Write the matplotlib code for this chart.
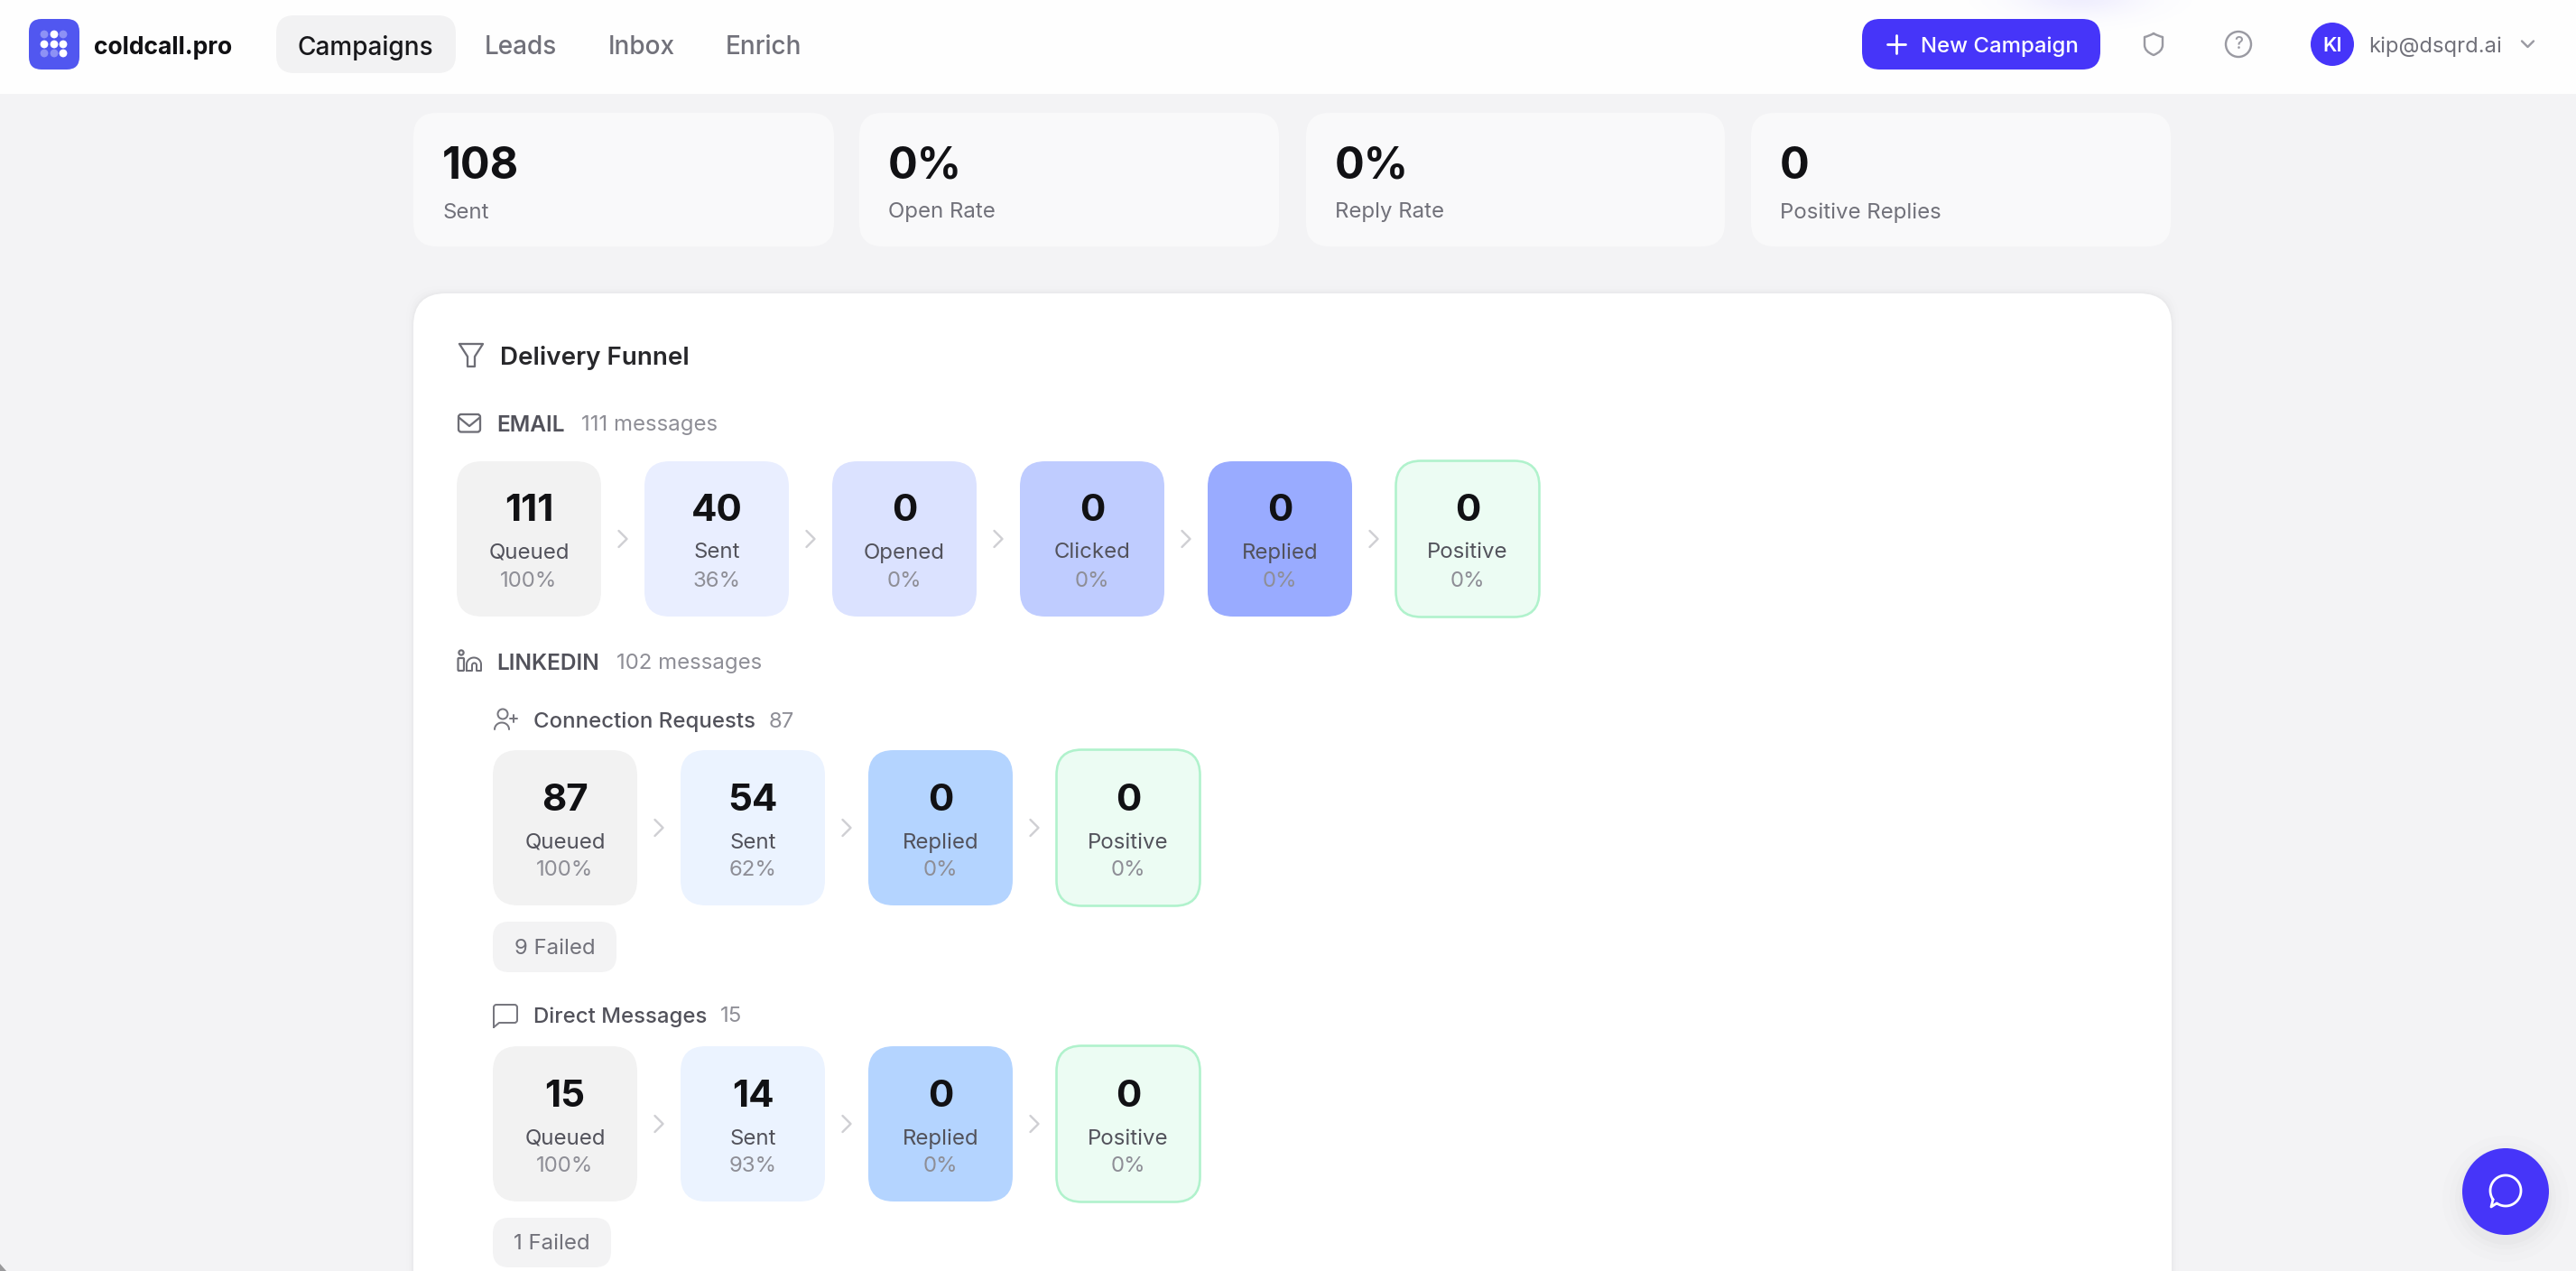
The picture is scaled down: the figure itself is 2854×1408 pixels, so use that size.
import numpy as np
import matplotlib
matplotlib.use("Agg")
import matplotlib.pyplot as plt
from matplotlib.patches import FancyBboxPatch, Circle, PathPatch
from matplotlib.path import Path

# ---- data ----
nav_items = ["Campaigns", "Leads", "Inbox", "Enrich"]
kpi_values = ["108", "0%", "0%", "0"]
kpi_labels = ["Sent", "Open Rate", "Reply Rate", "Positive Replies"]

email_stages = ["Queued", "Sent", "Opened", "Clicked", "Replied", "Positive"]
email_counts = [111, 40, 0, 0, 0, 0]
email_pcts = [100, 36, 0, 0, 0, 0]
email_total = 111
linkedin_total = 102

li_stages = ["Queued", "Sent", "Replied", "Positive"]
conn_counts = [87, 54, 0, 0]
conn_pcts = [100, 62, 0, 0]
conn_failed = 9
dm_counts = [15, 14, 0, 0]
dm_pcts = [100, 93, 0, 0]
dm_failed = 1

email_colors = ["#F2F2F2", "#E9EEFF", "#DBE2FF", "#BFCCFF", "#99ABFF", "#ECFCF3"]
li_colors = ["#F2F2F2", "#EBF3FF", "#B4D4FF", "#ECFCF3"]

# ---- canvas ----
W, H = 2854, 1408
plt.rcParams["font.family"] = ["Inter", "DejaVu Sans"]
fig = plt.figure(figsize=(W / 100, H / 100), dpi=100, facecolor="#F3F3F5")
ax = fig.add_axes([0, 0, 1, 1])
ax.set_xlim(0, W)
ax.set_ylim(H, 0)
ax.axis("off")

PX = 0.72
INK = "#18181B"
MID = "#52525B"
GREY = "#71717A"
LIGHT = "#8E8E96"
ACCENT = "#4635F9"


def rbox(x0, y0, x1, y1, r, fc, ec="none", lw=0, z=2):
    p = FancyBboxPatch((x0 + r, y0 + r), x1 - x0 - 2 * r, y1 - y0 - 2 * r,
                       boxstyle=f"round,pad={r},rounding_size={r}",
                       fc=fc, ec=ec, lw=lw, zorder=z)
    ax.add_patch(p)
    return p


def txt(x, y, s, px, color, weight="normal", ha="left", z=5):
    ax.text(x, y, s, fontsize=px * PX, color=color, weight=weight, ha=ha,
            va="center_baseline", zorder=z)


def line(xs, ys, color, lw=2.2, z=4):
    ax.plot(xs, ys, color=color, lw=lw * PX, solid_capstyle="round",
            solid_joinstyle="round", zorder=z)


def curve(verts, codes, color, lw=2.2, z=4):
    ax.add_patch(PathPatch(Path(verts, codes), fc="none", ec=color,
                           lw=lw * PX, capstyle="round", joinstyle="round", zorder=z))


# window corner
ax.fill([0, 0, 7], [1400, 1408, 1408], color="#9A9A9C", zorder=1, lw=0)

# header
ax.fill_between([0, W], 0, 104, color="#FEFEFE", zorder=1, lw=0)
gx = np.linspace(2100, 2480, 160)
gy = np.linspace(0, 104, 50)
GX, GY = np.meshgrid(gx, gy)
glow = np.exp(-(((GX - 2305) / 70) ** 2 + ((GY + 5) / 22) ** 2))
rgba = np.zeros(glow.shape + (4,))
rgba[..., :3] = matplotlib.colors.to_rgb("#6A5CFF")
rgba[..., 3] = glow * 0.10
ax.imshow(rgba, extent=(2100, 2480, 104, 0), zorder=1.5, aspect="auto", interpolation="bilinear")
ax.set_xlim(0, W)
ax.set_ylim(H, 0)

# logo
rbox(32, 21, 88, 77, 14, "#5157F0")
dot_x = [49, 60, 70]
dot_y = [38, 49, 59]
dot_a = [[.35, 1, .35], [1, 1, 1], [.35, .35, 1]]
for j, yy in enumerate(dot_y):
    for i, xx in enumerate(dot_x):
        ax.add_patch(Circle((xx, yy), 4.4, fc="white", alpha=dot_a[j][i], ec="none", zorder=4))
txt(104, 50, "coldcall.pro", 26.5, "#111114", "bold")

# nav
rbox(306, 17, 505, 81, 20, "#F2F2F3")
nav_x = [405, 577, 711, 846]
for k, (name, nx) in enumerate(zip(nav_items, nav_x)):
    txt(nx, 50, name, 28, INK if k == 0 else GREY, "medium", ha="center")

# header right
rbox(2063, 21, 2327, 77, 20, ACCENT)
line([2101, 2101], [39, 59], "white", 2.8)
line([2091, 2111], [49, 49], "white", 2.8)
txt(2128, 49, "New Campaign", 24, "white", "medium")
# shield
S = "#9A9AA2"
curve([(2386, 37), (2391, 40), (2396, 41), (2396, 41), (2396, 50), (2396, 57), (2386, 61),
       (2376, 57), (2376, 50), (2376, 41), (2376, 41), (2381, 40), (2386, 37)],
      [Path.MOVETO, Path.CURVE3, Path.CURVE3, Path.LINETO, Path.LINETO, Path.CURVE3, Path.CURVE3,
       Path.CURVE3, Path.CURVE3, Path.LINETO, Path.LINETO, Path.CURVE3, Path.CURVE3], S, 2.4)
# help
ax.add_patch(Circle((2480, 49), 14, fc="none", ec=S, lw=2.4 * PX, zorder=4))
ax.text(2480, 49.5, "?", fontsize=19 * PX, color=S, ha="center", va="center", zorder=5, weight="medium")
# avatar
ax.add_patch(Circle((2584, 49), 24, fc=ACCENT, ec="none", zorder=4))
txt(2584, 49, "KI", 22, "white", "semibold", ha="center")
txt(2624, 49, "kip@dsqrd.ai", 23.8, GREY)
line([2794, 2800.5, 2807], [45.5, 52, 45.5], S, 2.4)

# KPI cards
kpi_x = [(458, 924), (952, 1417), (1447, 1911), (1940, 2405)]
for (x0, x1), v, l in zip(kpi_x, kpi_values, kpi_labels):
    rbox(x0, 125, x1, 273, 26, "#F9F9FA")
    txt(x0 + 32, 180, v, 48.5, "#111114", "bold")
    txt(x0 + 32, 233, l, 24, GREY)

# main card with soft shadow
for i, a in zip([8, 5, 3, 1.5], [.004, .006, .009, .014]):
    ax.add_patch(FancyBboxPatch((458 + 36 - i, 325 + 36 - i), 1948 - 72 + 2 * i, 1300,
                                boxstyle="round,pad=36,rounding_size=36",
                                fc="#000000", alpha=a, ec="none", zorder=2.2))
ax.add_patch(FancyBboxPatch((458 + 36, 325 + 36), 1948 - 72, 1300,
                            boxstyle="round,pad=36,rounding_size=36",
                            fc="white", ec="none", zorder=2.5))

# Delivery Funnel title
I = "#6E6E76"
line([509, 535, 526, 526, 518, 518, 509], [381, 381, 395, 406, 406, 395, 381], I, 2.3)
txt(554, 393, "Delivery Funnel", 27.8, "#27272A", "semibold")

# EMAIL
rbox(508, 459, 532, 478.5, 3, "none", I, 2.3 * PX, z=4)
line([509, 520, 531], [463, 472, 463], I, 2.3)
txt(550, 469, "EMAIL", 24.5, MID, "semibold")
txt(644, 469, f"{email_total} messages", 24, LIGHT)

# LINKEDIN
rbox(507.5, 729, 514, 743, 1, "none", I, 2.2 * PX, z=4)
ax.add_patch(Circle((511, 723), 2.6, fc="none", ec=I, lw=2.2 * PX, zorder=4))
t = np.linspace(np.pi, 0, 30)
line(np.r_[517, 517 + 0 * t, 525 + 8 * np.cos(t), 533, 528, 528, 525.5 + 2.5 * np.cos(t[::-1]), 523, 517],
     np.r_[743, 736 + 0 * t, 736 - 7.5 * np.sin(t), 743, 743, 737, 737 - 2.5 * np.sin(t[::-1]), 743, 743], I, 2.0)
txt(550, 733, "LINKEDIN", 24.5, MID, "semibold")
txt(683, 733, f"{linkedin_total} messages", 24, LIGHT)


def funnel(x0, pitch, w, y0, y1, stages, counts, pcts, colors, dy):
    for i, (s, c, p, col) in enumerate(zip(stages, counts, pcts, colors)):
        xl = x0 + i * pitch
        cx = xl + w / 2
        if s == "Positive":
            rbox(xl + 0.5, y0 - 0.5, xl + w - 0.5, y1 + 0.5, 28, col, "#B0F2CC", 2.6 * PX, z=3)
        else:
            rbox(xl, y0, xl + w, y1, 28, col, z=3)
        txt(cx, y0 + dy[0], str(c), 42, "#111114", "bold", ha="center")
        txt(cx, y0 + dy[1], s, 24, MID, ha="center")
        txt(cx, y0 + dy[2], f"{p}%", 24, LIGHT, ha="center")
        if i < len(stages) - 1:
            hx = xl + w + 24
            hy = y0 + dy[3]
            line([hx - 4.5, hx + 4.5, hx - 4.5], [hy - 9, hy, hy + 9], "#CFCFD3", 2.4)


funnel(506, 208, 160, 511, 683, email_stages, email_counts, email_pcts, email_colors, (51, 99, 131, 86))

# Connection Requests
pi = "#77777F"
ax.add_patch(Circle((557, 791), 5.5, fc="none", ec=pi, lw=2.0 * PX, zorder=4))
t = np.linspace(np.pi, 0, 30)
line(np.r_[548, 556 + 8 * np.cos(t), 564], np.r_[808, 808 - 7.5 * np.sin(t), 808], pi, 2.0)
line([565, 573], [796, 796], pi, 2)
line([569, 569], [792, 800], pi, 2)
txt(591, 797, "Connection Requests", 24, MID, "medium")
txt(852, 797, str(conn_counts[0]), 24, LIGHT)
funnel(546, 208, 160, 831, 1003, li_stages, conn_counts, conn_pcts, li_colors, (52, 100, 131, 86))
rbox(546, 1021, 683, 1077, 18, "#F3F3F4", z=3)
txt(614.5, 1048.5, f"{conn_failed} Failed", 24, GREY, ha="center")

# Direct Messages
curve([(547, 1138), (547, 1116), (547, 1113), (550, 1113), (570, 1113), (573, 1113), (573, 1116),
       (573, 1130), (573, 1133), (570, 1133), (553, 1133), (547, 1138)],
      [Path.MOVETO, Path.LINETO, Path.CURVE3, Path.CURVE3, Path.LINETO, Path.CURVE3, Path.CURVE3,
       Path.LINETO, Path.CURVE3, Path.CURVE3, Path.LINETO, Path.LINETO], pi, 2.0)
txt(591, 1124, "Direct Messages", 24, MID, "medium")
txt(798, 1124, str(dm_counts[0]), 24, LIGHT)
funnel(546, 208, 160, 1159, 1331, li_stages, dm_counts, dm_pcts, li_colors, (52, 100, 131, 86))
rbox(546, 1349, 677, 1404, 18, "#F3F3F4", z=3)
txt(611.5, 1376, f"{dm_failed} Failed", 24, GREY, ha="center")

# chat bubble
for r, a in zip([70, 62, 56, 51], [.006, .008, .012, .016]):
    ax.add_patch(Circle((2776, 1328), r, fc="black", alpha=a, ec="none", zorder=5))
ax.add_patch(Circle((2776, 1320), 48, fc=ACCENT, ec="none", zorder=6))
t = np.radians(np.linspace(-215, 125, 80))
bx = 2776 + 17 * np.cos(t)
by = 1319 + 17 * np.sin(t)
line(np.r_[bx, 2760, bx[0]], np.r_[by, 1337, by[0]], "white", 2.8, z=7)

fig.savefig("out.png", dpi=100, facecolor=fig.get_facecolor())
